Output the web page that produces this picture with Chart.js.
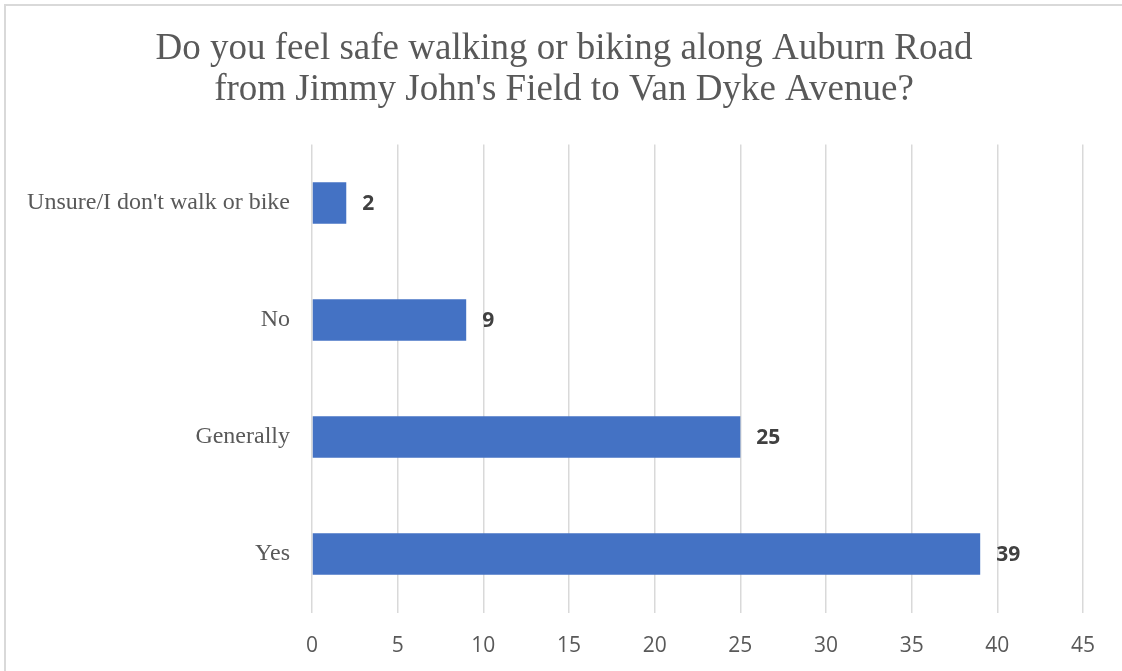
<!DOCTYPE html>
<html>
<head>
<meta charset="utf-8">
<title>Auburn Road safety survey</title>
<script src="https://cdn.jsdelivr.net/npm/chart.js@4/dist/chart.umd.min.js"></script>
<style>
    html, body { margin: 0; padding: 0; background: #ffffff; overflow: hidden; }
    #wrap { position: relative; width: 1122px; height: 671px; }
    #frame {
        position: absolute; left: 4px; top: 4px; right: -10px; bottom: -10px;
        border-top: 2px solid #d9d9d9; border-left: 2px solid #d9d9d9;
        pointer-events: none;
    }
</style>
</head>
<body>
<div id="wrap">
    <canvas id="safetyChart" width="1122" height="671"></canvas>
    <div id="frame"></div>
</div>
<script>
const titleLines = ['Do you feel safe walking or biking along Auburn Road', "from Jimmy John's Field to Van Dyke Avenue?"];
const answers = ["Unsure/I don't walk or bike", 'No', 'Generally', 'Yes'];
const responses = [2, 9, 25, 39];
const axisMax = 45;
const axisStep = 5;

const serifFont = '"Liberation Serif", "Times New Roman", serif';

// two-line title centred on the whole canvas rather than the chart box
const centredTitle = {
    id: 'centredTitle',
    afterDraw(chart) {
        const ctx = chart.ctx;
        const lineHeight = 41.4;
        ctx.save();
        ctx.font = '37px ' + serifFont;
        ctx.fillStyle = '#595959';
        ctx.textAlign = 'center';
        ctx.textBaseline = 'middle';
        titleLines.forEach(function(line, i) {
            ctx.fillText(line, chart.width / 2 + 3, 28.5 + lineHeight * i + lineHeight / 2);
        });
        ctx.restore();
    }
};

// writes the count just past the end of each bar
const barValueLabels = {
    id: 'barValueLabels',
    afterDatasetsDraw(chart) {
        const ctx = chart.ctx;
        const meta = chart.getDatasetMeta(0);
        ctx.save();
        ctx.font = 'bold 21px "Open Sans"';
        ctx.fillStyle = '#404040';
        ctx.textAlign = 'left';
        ctx.textBaseline = 'middle';
        meta.data.forEach(function(bar, i) {
            ctx.fillText(String(responses[i]), bar.x + 16, bar.y + 1);
        });
        ctx.restore();
    }
};

document.addEventListener('DOMContentLoaded', function() {
    createSafetyChart();
});

function createSafetyChart() {
    const ctx = document.getElementById('safetyChart').getContext('2d');
    new Chart(ctx, {
        type: 'bar',
        data: {
            labels: answers,
            datasets: [{
                data: responses,
                backgroundColor: '#4472c4',
                borderWidth: 0,
                categoryPercentage: 1,
                barPercentage: 0.354
            }]
        },
        options: {
            indexAxis: 'y',
            responsive: false,
            animation: false,
            layout: {
                padding: { left: 0, right: 39, top: 144.5, bottom: 0 }
            },
            plugins: {
                legend: { display: false },
                tooltip: { enabled: false },
                title: { display: false }
            },
            scales: {
                x: {
                    min: 0,
                    max: axisMax,
                    ticks: {
                        stepSize: axisStep,
                        color: '#595959',
                        padding: 21,
                        font: { family: '"Open Sans"', size: 21 }
                    },
                    grid: { color: '#d9d9d9', lineWidth: 1.5, drawTicks: false },
                    border: { display: false },
                    afterFit: function(scale) { scale.height = 58.5; }
                },
                y: {
                    ticks: {
                        color: '#595959',
                        padding: 22,
                        font: { family: serifFont, size: 24 }
                    },
                    grid: { display: false, drawTicks: false },
                    border: { display: false },
                    afterFit: function(scale) { scale.width = 312; }
                }
            }
        },
        plugins: [centredTitle, barValueLabels]
    });
}
</script>
</body>
</html>
